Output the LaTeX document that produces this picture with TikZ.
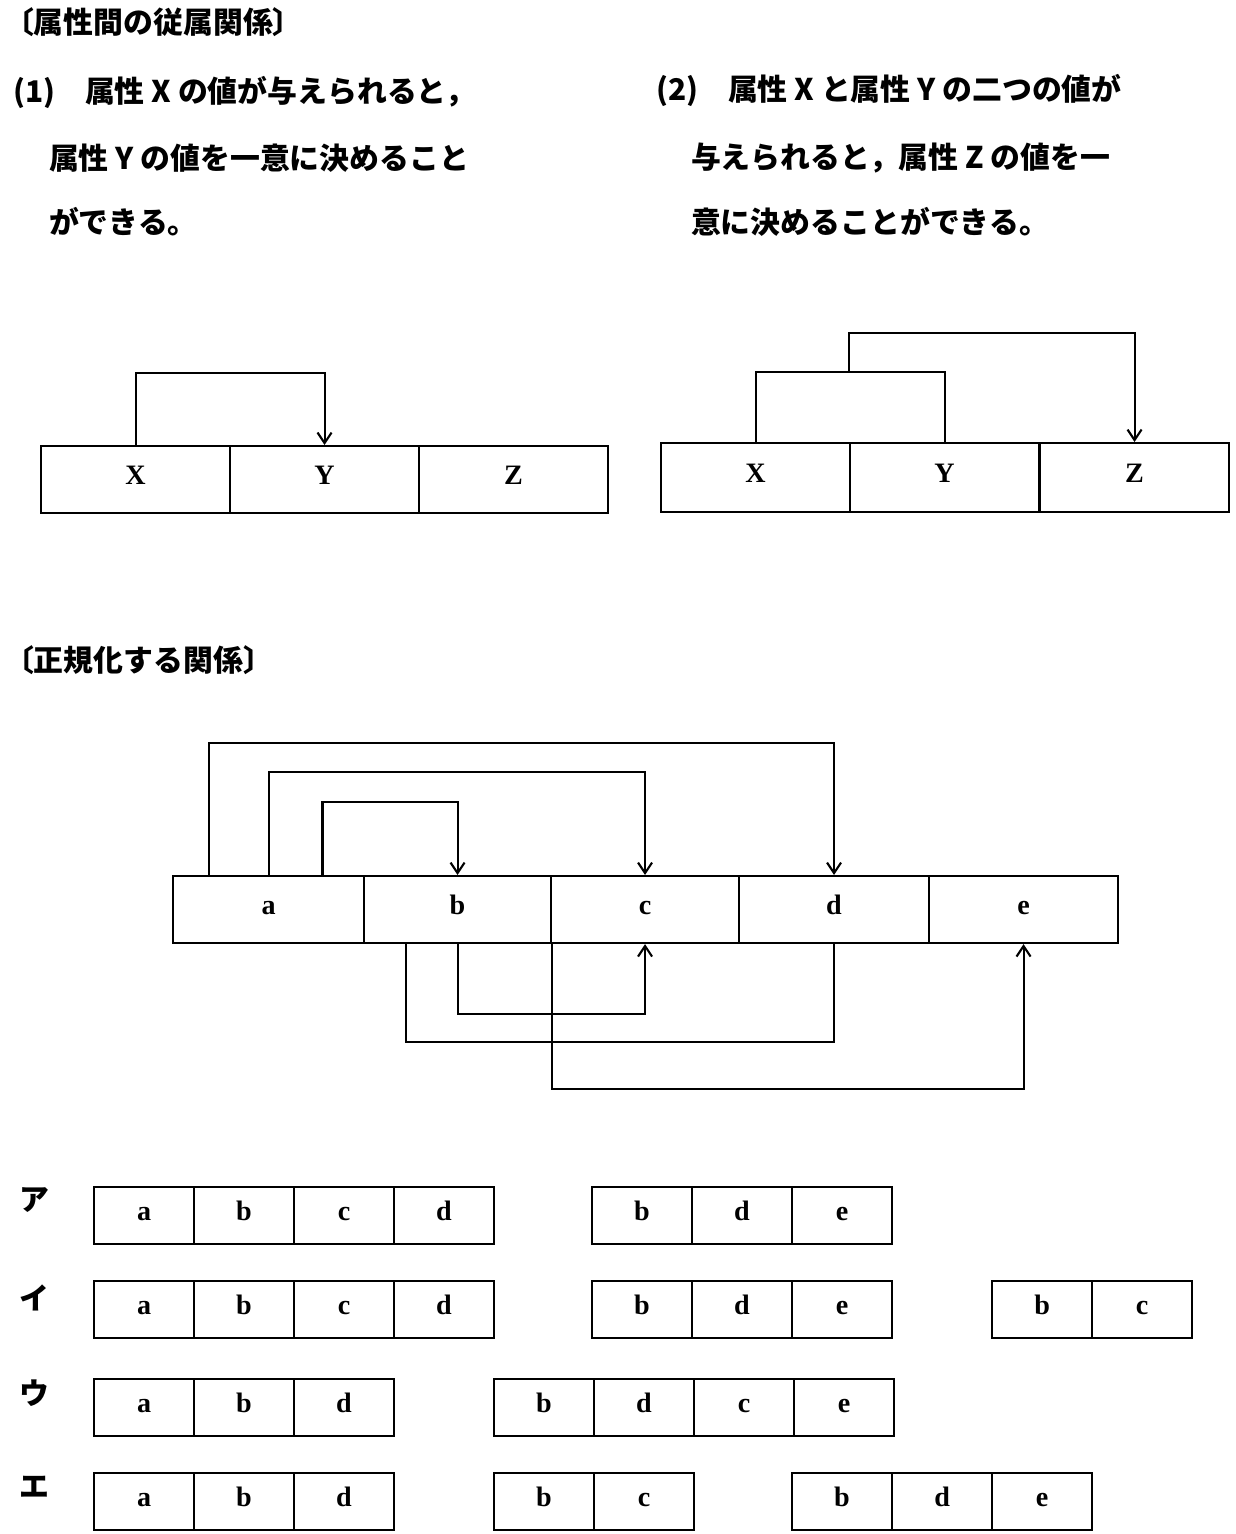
\documentclass[tikz,border=0pt]{standalone}
\usepackage{fontspec}
\setmainfont{Liberation Serif}
\newfontfamily\jp{Noto Sans CJK JP}
\usetikzlibrary{arrows.meta}
\begin{document}
\begin{tikzpicture}[x=0.02cm,y=-0.02cm,line width=1.2pt,
  cell/.style={draw,rectangle,anchor=north west,inner sep=0pt,text height=1.6ex,text depth=0.3ex,font=\fontsize{16}{18}\selectfont\bfseries},
  jt/.style={anchor=west,inner sep=0pt,font=\jp\fontsize{17}{20}\selectfont\bfseries},
  arr/.style={-{Straight Barb[length=6pt,width=8pt]}}]
\useasboundingbox (0,0) rectangle (1236,1534);
% texts
\node[jt] (t1) at (3,22) {〔属性間の従属関係〕};
\node[jt] (p1a) at (12,92) {(1)\hspace{1em}属性 X の値が与えられると，};
\node[jt] (p1b) at (48,158) {属性 Y の値を一意に決めること};
\node[jt] (p1c) at (48,222) {ができる。};
\node[jt] (p2a) at (655,90) {(2)\hspace{1em}属性 X と属性 Y の二つの値が};
\node[jt] (p2b) at (690,158) {与えられると，属性 Z の値を一};
\node[jt] (p2c) at (690,222) {意に決めることができる。};
\node[jt] (t2) at (3,660) {〔正規化する関係〕};
% Diagram 1
\foreach \l/\x in {X/40,Y/229,Z/418}
  \node[cell,minimum width=189*0.02cm,minimum height=67*0.02cm] (d1\l) at (\x,445) {\l};
\draw[arr] (d1X.north) -- ++(0,-72) -| (d1Y.north);
% Diagram 2
\foreach \l/\x in {X/660,Y/849,Z/1039}
  \node[cell,minimum width=189*0.02cm,minimum height=69*0.02cm] (d2\l) at (\x,442) {\l};
\draw (d2X.north) -- ++(0,-70) -| (d2Y.north);
\coordinate (j2) at (849,372);
\draw[arr] (j2) -- ++(0,-39) -| (d2Z.north);
% Main diagram
\foreach \l/\x/\w in {a/172/191,b/363/187,c/550/188,d/738/190,e/928/189}
  \node[cell,minimum width=\w*0.02cm,minimum height=67*0.02cm] (m\l) at (\x,875) {\l};
\draw[arr] ([xshift=-1.2cm]ma.north) -- ++(0,-132) -| (md.north);
\draw[arr] (ma.north) -- ++(0,-103) -| (mc.north);
\draw[arr] ([xshift=1.08cm]ma.north) -- ++(0,-73) -| (mb.north);
\draw[arr] (mb.south) -- ++(0,70) -| (mc.south);
\draw ([xshift=-1.04cm]mb.south) -- ++(0,98) -| (md.south);
\draw[arr] (mb.south east) -- ++(0,145) -| (me.south);
% options
\foreach \lab/\y in {ア/1200,イ/1298,ウ/1393,エ/1487}
  \node[jt] (L\lab) at (18,\y) {\lab};
\newcommand{\orow}[4]{%
  \foreach \l [count=\i from 0] in {#4}
    \node[cell,minimum width=100*0.02cm,minimum height=57*0.02cm] (#1\i) at ({#2+\i*100},#3) {\l};}
\orow{aA}{93}{1186}{a,b,c,d}
\orow{aB}{591}{1186}{b,d,e}
\orow{iA}{93}{1280}{a,b,c,d}
\orow{iB}{591}{1280}{b,d,e}
\orow{iC}{991}{1280}{b,c}
\orow{uA}{93}{1378}{a,b,d}
\orow{uB}{493}{1378}{b,d,c,e}
\orow{eA}{93}{1472}{a,b,d}
\orow{eB}{493}{1472}{b,c}
\orow{eC}{791}{1472}{b,d,e}
\end{tikzpicture}
\end{document}
